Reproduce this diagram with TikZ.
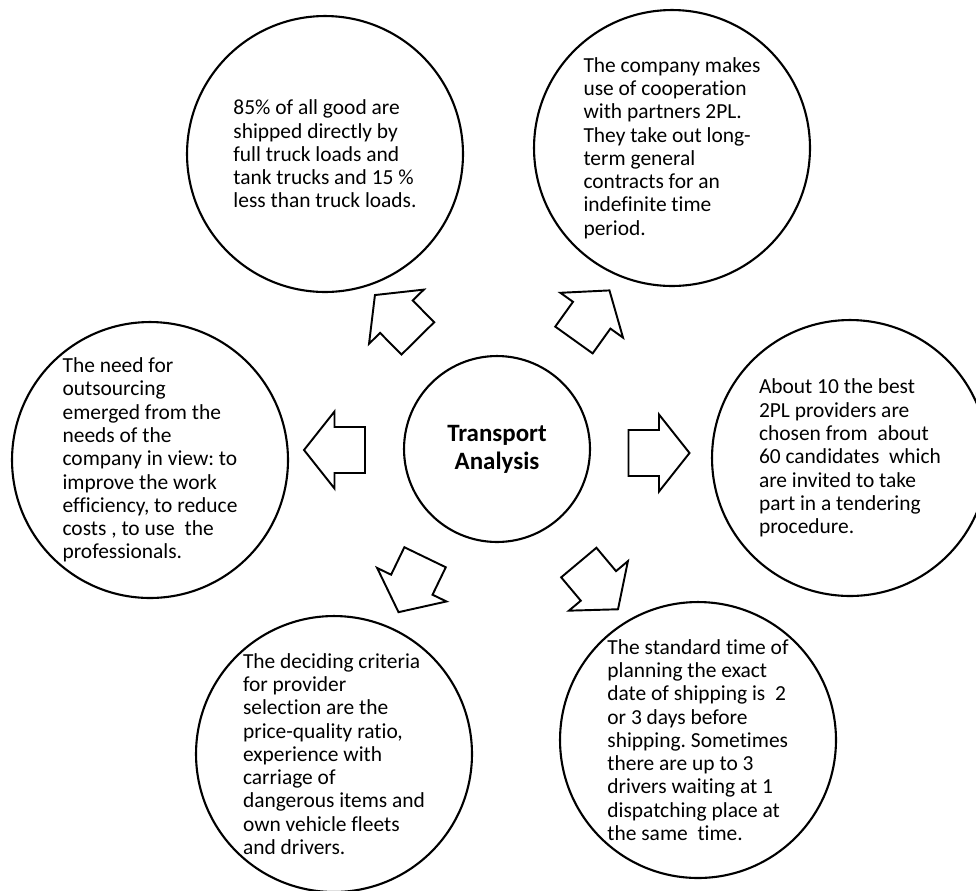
\documentclass[tikz,border=0pt]{standalone}
\usepackage{fontspec}
\setmainfont{Carlito}[Ligatures=NoCommon]
\frenchspacing

\begin{document}
\begin{tikzpicture}[
  x=0.02cm, y=0.02cm,
  bubble/.style={draw, circle, line width=1.2pt, minimum size=5.52cm, inner sep=0pt,
                 align=left, font=\fontsize{12.2}{13.26}\selectfont},
  hub/.style={draw, circle, line width=1.2pt, minimum size=3.72cm, inner sep=0pt,
              align=center, font=\fontsize{14.2}{15.9}\selectfont\bfseries},
  blockarr/.pic={\draw[line width=1.1pt, line join=miter]
    (30.5,0) -- (0,38.5) -- (0,23) -- (-30.5,23) -- (-30.5,-23) -- (0,-23) -- (0,-38.5) -- cycle;}
]
\useasboundingbox (0,0) rectangle (976,-890);

\node[hub] (ta) at (497,-449) {Transport\\Analysis};

\node[bubble] (goods) at (325,-154) {85\% of all good are\\shipped directly by\\full truck loads and\\tank trucks and 15 \%\\less than truck loads.};
\node[bubble] (coop) at (672,-148) {The company makes\\use of cooperation\\with partners 2PL.\\They take out long-\\term general\\contracts for an\\indefinite time\\period.};
\node[bubble] (need) at (150,-460) {The need for\\outsourcing\\emerged from the\\needs of the\\company in view: to\\improve the work\\efficiency, to reduce\\costs , to use~ the\\professionals.};
\node[bubble] (prov) at (850,-458) {About 10 the best\\2PL providers are\\chosen from~ about\\60 candidates~ which\\are invited to take\\part in a tendering\\procedure.};
\node[bubble] (crit) at (334,-754) {The deciding criteria\\for provider\\selection are the\\price-quality ratio,\\experience with\\carriage of\\dangerous items and\\own vehicle fleets\\and drivers.};
\node[bubble] (plan) at (698,-740) {The standard time of\\planning the exact\\date of shipping is~ 2\\or 3 days before\\shipping. Sometimes\\there are up to 3\\drivers waiting at 1\\dispatching place at\\the same~ time.};

\pic[rotate=134.7] at (396.4,-316.7) {blockarr};
\pic[rotate=54.4] at (591.7,-315.2) {blockarr};
\pic[rotate=180] at (334.5,-450) {blockarr};
\pic at (659,-453) {blockarr};
\pic[rotate=244.2] at (411.8,-584.7) {blockarr};
\pic[rotate=-50] at (598.4,-585.9) {blockarr};

\end{tikzpicture}
\end{document}
